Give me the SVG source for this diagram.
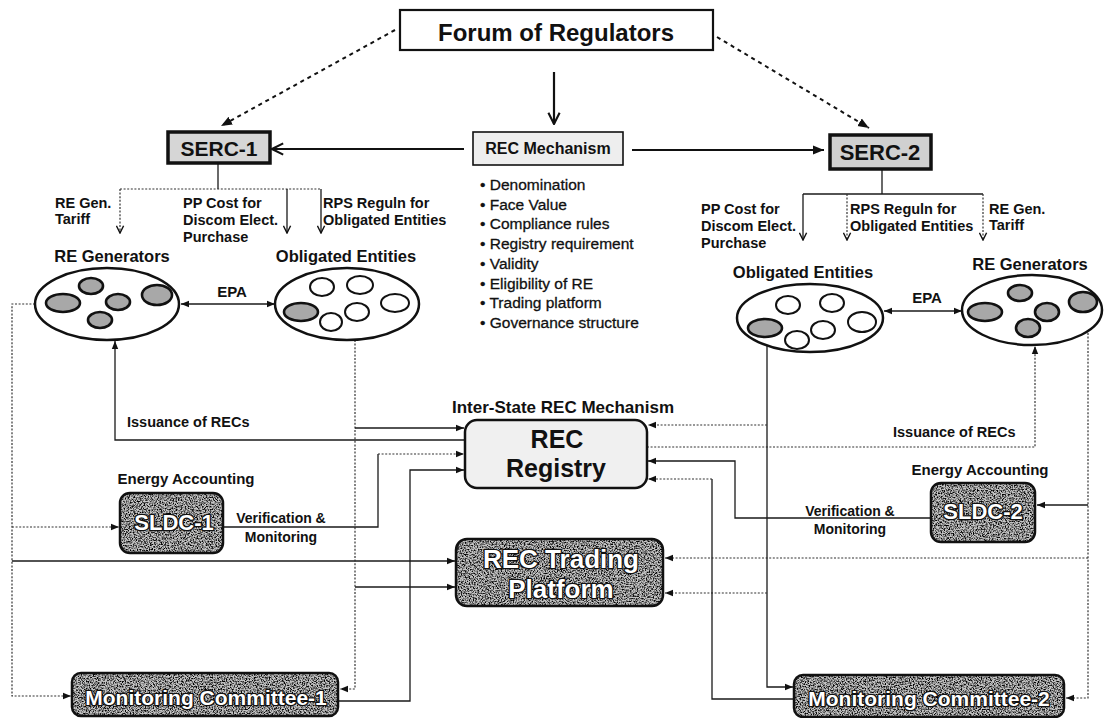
<svg xmlns="http://www.w3.org/2000/svg" width="1104" height="718" viewBox="0 0 1104 718">
<style>
text{font-family:"Liberation Sans",Arial,Helvetica,sans-serif;font-weight:bold;fill:#111}
.c{text-anchor:middle}
.t145{font-size:14.5px}
.t165{font-size:16.5px}
.list{font-size:15.5px;font-weight:normal;stroke:#111;stroke-width:0.3px}
.inv{fill:#fff;stroke:#111;stroke-width:2.6px;paint-order:stroke fill;stroke-linejoin:round}
.ln{fill:none;stroke:#1a1a1a;stroke-width:1.3}
.dt{fill:none;stroke:#333;stroke-width:1.2;stroke-dasharray:2 1.6}
.thick{fill:none;stroke:#111;stroke-width:2.2}
.dash{fill:none;stroke:#111;stroke-width:2;stroke-dasharray:4 4}
.big{fill:none;stroke:#111;stroke-width:2.5}
.hole{fill:#fff;stroke:#111;stroke-width:2}
.shade{fill:#a8a8a8;stroke:#111;stroke-width:2.6}
.darkbg{fill:#c4c4c4}
.speck{fill:#fff;filter:url(#speckD)}
.edge{fill:none;stroke:#111;stroke-width:2.5}
</style>
<defs>
<filter id="speckD" x="0" y="0" width="1" height="1" color-interpolation-filters="sRGB">
<feTurbulence type="fractalNoise" baseFrequency="0.75" numOctaves="2" seed="7" result="n"/>
<feColorMatrix in="n" type="matrix" values="0 0 0 0 0  0 0 0 0 0  0 0 0 0 0  3.2 0 0 0 -1.3"/>
</filter>
<marker id="fa" viewBox="0 0 10 10" refX="10" refY="5" markerWidth="8" markerHeight="8" markerUnits="userSpaceOnUse" orient="auto-start-reverse"><path d="M0,1 L10,5 L0,9 z" fill="#111"/></marker>
<marker id="fb" viewBox="0 0 10 10" refX="10" refY="5" markerWidth="11" markerHeight="11" markerUnits="userSpaceOnUse" orient="auto-start-reverse"><path d="M0,1 L10,5 L0,9 z" fill="#111"/></marker>
<marker id="va" viewBox="0 0 10 10" refX="9" refY="5" markerWidth="9" markerHeight="9" markerUnits="userSpaceOnUse" orient="auto"><path d="M1,1 L9,5 L1,9" fill="none" stroke="#111" stroke-width="1.6"/></marker>
<marker id="vb" viewBox="0 0 10 10" refX="9" refY="5" markerWidth="14" markerHeight="14" markerUnits="userSpaceOnUse" orient="auto"><path d="M1,1 L9,5 L1,9" fill="none" stroke="#111" stroke-width="1.5"/></marker>
<clipPath id="cpS1"><rect x="120" y="493" width="103" height="60" rx="10"/></clipPath>
<clipPath id="cpS2"><rect x="931" y="483" width="104" height="59" rx="10"/></clipPath>
<clipPath id="cpT"><rect x="456" y="539" width="207" height="67" rx="11"/></clipPath>
<clipPath id="cpM1"><rect x="72" y="673" width="266" height="43" rx="9"/></clipPath>
<clipPath id="cpM2"><rect x="794" y="675" width="270" height="42" rx="9"/></clipPath>
</defs>
<rect width="1104" height="718" fill="#fff"/>

<g id="connectors">
<path class="dash" d="M395,30 L221,126" marker-end="url(#fb)"/>
<path class="dash" d="M717,37 L869,128" marker-end="url(#fb)"/>
<path class="thick" d="M554,72 V124" marker-end="url(#vb)"/>
<path class="thick" d="M464,149 H272" marker-end="url(#vb)"/>
<path class="thick" d="M632,150 H824" marker-end="url(#fb)"/>

<path class="ln" d="M218,163 V189"/>
<path class="dt" d="M120,189 H321"/>
<path class="dt" d="M120,189 V233" marker-end="url(#va)"/>
<path class="ln" d="M287,189 V233" marker-end="url(#va)"/>
<path class="ln" d="M321,189 V233" marker-end="url(#va)"/>

<path class="ln" d="M882,169 V194"/>
<path class="ln" d="M803,194 H983"/>
<path class="ln" d="M803,194 V240" marker-end="url(#va)"/>
<path class="dt" d="M847,194 V240" marker-end="url(#va)"/>
<path class="dt" d="M983,194 V240" marker-end="url(#va)"/>

<path class="ln" d="M181,304 H275" stroke-width="2" marker-start="url(#fa)" marker-end="url(#fa)"/>
<path class="ln" d="M884,311 H962" stroke-width="2" marker-start="url(#fa)" marker-end="url(#fa)"/>

<path class="ln" d="M465,440 H115 V341" marker-end="url(#fa)"/>
<path class="dt" d="M647,447 H1035 V346" marker-end="url(#fa)"/>

<path class="dt" d="M35,304 H12 V696 H71" marker-end="url(#fa)"/>
<path class="dt" d="M12,527 H119" marker-end="url(#fa)"/>
<path class="ln" d="M12,561 H455" marker-end="url(#fa)"/>

<path class="dt" d="M355,340 V689 H340" marker-end="url(#fa)"/>
<path class="ln" d="M355,428 H464" marker-end="url(#fa)"/>
<path class="ln" d="M355,587 H455" marker-end="url(#fa)"/>

<path class="ln" d="M223,527 H378 V454"/>
<path class="dt" d="M378,454 H464" marker-end="url(#fa)"/>
<path class="ln" d="M338,701 H410 V470 H464" marker-end="url(#fa)"/>

<path class="dt" d="M1088,333 V698 H1066" marker-end="url(#fa)"/>
<path class="ln" d="M1088,505 H1037" marker-end="url(#fa)"/>
<path class="dt" d="M1088,558 H665" marker-end="url(#fa)"/>

<path class="ln" d="M767,345 V687 H793" marker-end="url(#fa)"/>
<path class="dt" d="M767,425 H648" marker-end="url(#fa)"/>
<path class="dt" d="M767,593 H665" marker-end="url(#fa)"/>

<path class="ln" d="M931,518 H735 V461 H648" marker-end="url(#fa)"/>
<path class="ln" d="M794,699 H712 V479"/>
<path class="dt" d="M712,479 H648" marker-end="url(#fa)"/>
</g>

<g id="forum">
<rect x="400" y="10" width="313" height="40" fill="#fff" stroke="#111" stroke-width="2.2"/>
<text x="556" y="41" class="c" font-size="24">Forum of Regulators</text>
</g>

<g id="rec-mechanism">
<rect x="473" y="132" width="150" height="33" fill="#eeeeee" stroke="#111" stroke-width="1.6"/>
<text x="548" y="154" class="c" font-size="16">REC Mechanism</text>
<text class="list" x="480" y="190">• Denomination</text>
<text class="list" x="480" y="209.7">• Face Value</text>
<text class="list" x="480" y="229.4">• Compliance rules</text>
<text class="list" x="480" y="249.1">• Registry requirement</text>
<text class="list" x="480" y="268.8">• Validity</text>
<text class="list" x="480" y="288.5">• Eligibility of RE</text>
<text class="list" x="480" y="308.2">• Trading platform</text>
<text class="list" x="480" y="327.9">• Governance structure</text>
</g>

<g id="serc-1">
<rect x="168" y="132" width="102" height="31" fill="#d6d6d6" stroke="#111" stroke-width="3.5"/>
<text x="219" y="156" class="c" font-size="21">SERC-1</text>
</g>
<g id="serc-2">
<rect x="830" y="135" width="101" height="34" fill="#d0d0d0" stroke="#111" stroke-width="3.5"/>
<text x="880" y="160" class="c" font-size="22">SERC-2</text>
</g>

<g id="serc1-labels">
<text class="t145" x="55" y="208">RE Gen.</text>
<text class="t145" x="55" y="224">Tariff</text>
<text class="t145" x="183" y="208">PP Cost for</text>
<text class="t145" x="183" y="225">Discom Elect.</text>
<text class="t145" x="183" y="242">Purchase</text>
<text class="t145" x="323" y="208">RPS Reguln for</text>
<text class="t145" x="323" y="225">Obligated Entities</text>
</g>
<g id="serc2-labels">
<text class="t145" x="701" y="214">PP Cost for</text>
<text class="t145" x="701" y="231">Discom Elect.</text>
<text class="t145" x="701" y="248">Purchase</text>
<text class="t145" x="850" y="214">RPS Reguln for</text>
<text class="t145" x="850" y="231">Obligated Entities</text>
<text class="t145" x="989" y="214">RE Gen.</text>
<text class="t145" x="989" y="230">Tariff</text>
</g>

<g id="re-generators-1">
<text x="112" y="262" class="c t165">RE Generators</text>
<ellipse cx="107" cy="304" rx="72" ry="36" class="big" fill="#fff"/>
<ellipse cx="91" cy="286" rx="12" ry="8" class="shade"/>
<ellipse cx="63" cy="303" rx="17" ry="9" class="shade"/>
<ellipse cx="118" cy="302" rx="12" ry="8" class="shade"/>
<ellipse cx="100" cy="320" rx="12" ry="8" class="shade"/>
<ellipse cx="157" cy="295" rx="15" ry="10" class="shade"/>
</g>
<g id="epa-1"><text x="232" y="297" class="c" font-size="15">EPA</text></g>
<g id="obligated-1">
<text x="346" y="262" class="c t165">Obligated Entities</text>
<ellipse cx="347" cy="304" rx="72" ry="36" class="big" fill="#fff"/>
<ellipse cx="322" cy="287" rx="12" ry="9" class="hole"/>
<ellipse cx="360" cy="285" rx="13" ry="9" class="hole"/>
<ellipse cx="395" cy="303" rx="14" ry="9" class="hole"/>
<ellipse cx="357" cy="312" rx="12" ry="9" class="hole"/>
<ellipse cx="331" cy="322" rx="11" ry="9" class="hole"/>
<ellipse cx="301" cy="312" rx="17" ry="9" class="shade"/>
</g>

<g id="obligated-2">
<text x="803" y="278" class="c t165">Obligated Entities</text>
<ellipse cx="810" cy="318" rx="73" ry="34" class="big" fill="#fff"/>
<ellipse cx="788" cy="305" rx="12" ry="9" class="hole"/>
<ellipse cx="832" cy="303" rx="12" ry="9" class="hole"/>
<ellipse cx="862" cy="322" rx="14" ry="10" class="hole"/>
<ellipse cx="823" cy="330" rx="12" ry="9" class="hole"/>
<ellipse cx="797" cy="340" rx="12" ry="9" class="hole"/>
<ellipse cx="765" cy="328" rx="17" ry="9" class="shade"/>
</g>
<g id="epa-2"><text x="927" y="303" class="c" font-size="15">EPA</text></g>
<g id="re-generators-2">
<text x="1030" y="270" class="c t165">RE Generators</text>
<ellipse cx="1032" cy="310" rx="70" ry="35" class="big" fill="#fff"/>
<ellipse cx="1020" cy="293" rx="12" ry="8" class="shade"/>
<ellipse cx="985" cy="312" rx="17" ry="9" class="shade"/>
<ellipse cx="1047" cy="312" rx="12" ry="9" class="shade"/>
<ellipse cx="1028" cy="328" rx="12" ry="9" class="shade"/>
<ellipse cx="1083" cy="302" rx="14" ry="10" class="shade"/>
</g>

<g id="connector-labels">
<text x="127" y="427" font-size="14.5">Issuance of RECs</text>
<text x="893" y="437" font-size="14.5">Issuance of RECs</text>
<text x="186" y="484" class="c" font-size="15">Energy Accounting</text>
<text x="980" y="475" class="c" font-size="15">Energy Accounting</text>
<text x="281" y="523" class="c" font-size="14">Verification &amp;</text>
<text x="281" y="542" class="c" font-size="14">Monitoring</text>
<text x="850" y="516" class="c" font-size="14">Verification &amp;</text>
<text x="850" y="534" class="c" font-size="14">Monitoring</text>
<text x="563" y="413" class="c" font-size="17">Inter-State REC Mechanism</text>
</g>

<g id="rec-registry">
<rect x="465" y="420" width="182" height="68" rx="12" fill="#f0f0f0" stroke="#111" stroke-width="2.5"/>
<text x="557" y="448" class="c" font-size="25">REC</text>
<text x="556" y="477" class="c" font-size="25">Registry</text>
</g>

<g id="sldc-1">
<rect x="120" y="493" width="103" height="60" rx="10" class="darkbg"/>
<rect x="120" y="493" width="103" height="60" class="speck" clip-path="url(#cpS1)"/>
<rect x="120" y="493" width="103" height="60" rx="10" class="edge"/>
<text x="174" y="530" class="c inv" font-size="22">SLDC-1</text>
</g>
<g id="sldc-2">
<rect x="931" y="483" width="104" height="59" rx="10" class="darkbg"/>
<rect x="931" y="483" width="104" height="59" class="speck" clip-path="url(#cpS2)"/>
<rect x="931" y="483" width="104" height="59" rx="10" class="edge"/>
<text x="983" y="519" class="c inv" font-size="22">SLDC-2</text>
</g>

<g id="rec-trading">
<rect x="456" y="539" width="207" height="67" rx="11" class="darkbg"/>
<rect x="456" y="539" width="207" height="67" class="speck" clip-path="url(#cpT)"/>
<rect x="456" y="539" width="207" height="67" rx="11" class="edge"/>
<text x="561" y="568" class="c inv" font-size="26">REC Trading</text>
<text x="561" y="598" class="c inv" font-size="26">Platform</text>
</g>

<g id="monitoring-1">
<rect x="72" y="673" width="266" height="43" rx="9" class="darkbg"/>
<rect x="72" y="673" width="266" height="43" class="speck" clip-path="url(#cpM1)"/>
<rect x="72" y="673" width="266" height="43" rx="9" class="edge"/>
<text x="206" y="705" class="c inv" font-size="21">Monitoring Committee-1</text>
</g>
<g id="monitoring-2">
<rect x="794" y="675" width="270" height="42" rx="9" class="darkbg"/>
<rect x="794" y="675" width="270" height="42" class="speck" clip-path="url(#cpM2)"/>
<rect x="794" y="675" width="270" height="42" rx="9" class="edge"/>
<text x="929" y="706" class="c inv" font-size="21">Monitoring Committee-2</text>
</g>
</svg>
